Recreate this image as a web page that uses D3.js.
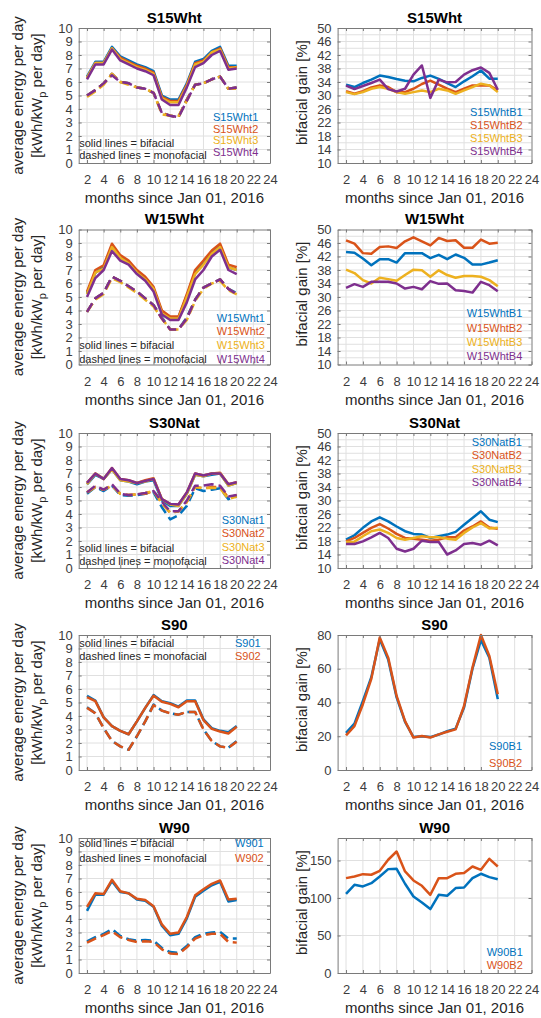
<!DOCTYPE html>
<html>
<head>
<meta charset="utf-8">
<script src="https://cdn.jsdelivr.net/npm/d3@7"></script>
<style>
  html, body { margin: 0; padding: 0; background: #fff; }
  svg { display: block; font-family: "Liberation Sans", Arial, Helvetica, sans-serif; }
</style>
</head>
<body>
<svg id="fig" width="541" height="1018"></svg>
<script>
// ---------- data ----------
const months = [2, 3, 4, 5, 6, 7, 8, 9, 10, 11, 12, 13, 14, 15, 16, 17, 18, 19, 20];
const xTicks = [2, 4, 6, 8, 10, 12, 14, 16, 18, 20, 22, 24];

const energyTicks = [0, 1, 2, 3, 4, 5, 6, 7, 8, 9, 10];
const gainTicks = [10, 14, 18, 22, 26, 30, 34, 38, 42, 46, 50];
const gainGrid = [10, 12, 14, 16, 18, 20, 22, 24, 26, 28, 30, 32, 34, 36, 38, 40, 42, 44, 46, 48, 50];
const s90GainTicks = [0, 20, 40, 60, 80];
const w90GainTicks = [0, 50, 100, 150];

// S15Wht daily energy, bifacial strings
const s15Bi1 = [6.4, 7.5, 7.5, 8.6, 7.9, 7.6, 7.3, 7.1, 6.8, 5.0, 4.7, 4.7, 5.9, 7.5, 7.7, 8.3, 8.6, 7.2, 7.2];
const s15Bi2 = [6.3, 7.4, 7.4, 8.5, 7.8, 7.5, 7.2, 7.0, 6.7, 4.9, 4.6, 4.6, 5.8, 7.4, 7.6, 8.2, 8.5, 7.1, 7.1];
const s15Bi3 = [6.3, 7.4, 7.4, 8.5, 7.7, 7.4, 7.1, 6.9, 6.6, 4.8, 4.5, 4.5, 5.7, 7.3, 7.5, 8.2, 8.4, 7.0, 7.1];
const s15Bi4 = [6.2, 7.3, 7.3, 8.4, 7.6, 7.3, 7.0, 6.8, 6.5, 4.7, 4.3, 4.3, 5.6, 7.1, 7.4, 8.0, 8.3, 6.9, 7.0];
// S15Wht daily energy, monofacial references
const s15Mo1 = [5.0, 5.4, 5.9, 6.6, 6.0, 5.9, 5.6, 5.5, 5.2, 3.7, 3.5, 3.4, 4.7, 5.8, 5.9, 6.2, 6.4, 5.5, 5.6];
const s15Mo2 = [5.0, 5.4, 5.9, 6.6, 6.0, 5.9, 5.6, 5.5, 5.2, 3.7, 3.5, 3.4, 4.7, 5.8, 5.9, 6.2, 6.4, 5.5, 5.6];
const s15Mo3 = [4.9, 5.3, 5.8, 6.6, 6.0, 5.8, 5.6, 5.5, 5.2, 3.6, 3.5, 3.5, 4.6, 5.8, 5.9, 6.2, 6.4, 5.5, 5.5];
const s15Mo4 = [5.0, 5.4, 5.9, 6.5, 6.0, 5.9, 5.6, 5.5, 5.2, 3.7, 3.5, 3.4, 4.6, 5.8, 5.9, 6.2, 6.4, 5.5, 5.6];
// S15Wht bifacial gain [%]
const s15Gain1 = [33.2, 32.5, 33.7, 34.7, 35.9, 35.5, 34.9, 34.4, 34.2, 35.2, 35.9, 34.9, 33.7, 32.5, 34.2, 35.7, 37.4, 35.0, 35.0];
const s15Gain2 = [31.3, 30.5, 31.3, 32.4, 33.0, 32.5, 31.0, 31.0, 32.0, 33.4, 34.4, 33.2, 32.0, 31.0, 32.0, 33.0, 33.0, 33.0, 31.5];
const s15Gain3 = [31.0, 30.4, 31.0, 32.0, 32.5, 32.0, 31.0, 30.5, 31.0, 31.5, 31.0, 32.0, 31.5, 30.5, 31.5, 32.5, 33.5, 33.0, 31.0];
const s15Gain4 = [32.9, 31.9, 32.8, 33.7, 34.7, 31.9, 31.2, 32.0, 36.2, 38.9, 29.3, 34.7, 33.9, 34.0, 36.2, 37.5, 38.3, 36.7, 31.7];

// W15Wht
const w15Bi1 = [5.3, 6.8, 7.2, 8.8, 8.0, 7.6, 6.9, 6.4, 5.6, 3.9, 3.5, 3.5, 5.1, 6.8, 7.5, 8.3, 8.8, 7.2, 7.0];
const w15Bi2 = [5.4, 7.0, 7.35, 8.95, 8.1, 7.7, 7.0, 6.5, 5.75, 4.0, 3.55, 3.55, 5.2, 7.0, 7.7, 8.45, 8.95, 7.4, 7.2];
const w15Bi3 = [5.2, 6.8, 7.1, 8.7, 7.9, 7.5, 6.8, 6.3, 5.6, 3.8, 3.4, 3.4, 5.0, 6.7, 7.4, 8.2, 8.7, 7.2, 7.0];
const w15Bi4 = [5.0, 6.4, 7.0, 8.4, 7.7, 7.4, 6.7, 6.2, 5.4, 3.7, 3.3, 3.3, 4.6, 6.3, 7.0, 8.0, 8.5, 7.0, 6.7];
const w15Mo1 = [3.9, 4.9, 5.3, 6.5, 6.2, 5.8, 5.4, 4.9, 4.4, 3.5, 2.6, 2.6, 3.5, 4.8, 5.7, 6.0, 6.3, 5.6, 5.3];
const w15Mo2 = [3.9, 4.9, 5.3, 6.5, 6.2, 5.8, 5.4, 4.9, 4.4, 3.4, 2.6, 2.6, 3.4, 4.8, 5.7, 6.0, 6.3, 5.6, 5.2];
const w15Mo3 = [3.9, 4.8, 5.2, 6.4, 6.1, 5.7, 5.3, 4.8, 4.3, 3.4, 2.6, 2.6, 3.3, 4.7, 5.6, 6.0, 6.2, 5.5, 5.2];
const w15Mo4 = [3.9, 4.9, 5.3, 6.5, 6.2, 5.8, 5.4, 4.9, 4.4, 3.4, 2.6, 2.6, 3.4, 4.8, 5.7, 6.0, 6.3, 5.6, 5.2];
const w15Gain1 = [43.3, 43.1, 41.4, 39.4, 41.2, 41.2, 40.2, 43.0, 43.0, 43.0, 41.5, 42.5, 41.2, 42.6, 41.6, 39.6, 39.6, 40.2, 40.9];
const w15Gain2 = [46.8, 45.8, 43.0, 42.8, 44.8, 45.0, 44.5, 46.5, 47.7, 46.5, 45.3, 47.5, 46.6, 46.8, 44.6, 44.6, 47.0, 45.8, 46.1];
const w15Gain3 = [38.1, 37.1, 35.0, 34.0, 35.7, 35.3, 34.8, 36.5, 38.1, 37.9, 36.0, 37.9, 36.5, 35.7, 36.2, 36.2, 36.0, 35.0, 33.2];
const w15Gain4 = [32.7, 33.8, 33.0, 34.5, 34.5, 34.5, 34.0, 32.5, 33.0, 32.3, 34.7, 33.9, 34.0, 32.0, 31.8, 31.3, 34.5, 33.5, 31.7];

// S30Nat
const s30Bi1 = [6.2, 6.9, 6.6, 7.3, 6.5, 6.4, 6.2, 6.4, 6.5, 5.0, 4.6, 4.6, 5.5, 6.9, 6.8, 6.9, 7.0, 6.1, 6.3];
const s30Bi2 = [6.3, 7.0, 6.6, 7.4, 6.6, 6.5, 6.3, 6.5, 6.65, 5.1, 4.75, 4.7, 5.6, 7.0, 6.85, 7.0, 7.05, 6.2, 6.35];
const s30Bi3 = [6.2, 7.0, 6.6, 7.3, 6.5, 6.4, 6.3, 6.4, 6.6, 5.1, 4.7, 4.6, 5.5, 6.9, 6.8, 7.0, 7.0, 6.1, 6.3];
const s30Bi4 = [6.3, 7.0, 6.6, 7.4, 6.6, 6.5, 6.3, 6.45, 6.6, 5.1, 4.75, 4.7, 5.6, 7.0, 6.85, 7.0, 7.0, 6.2, 6.35];
const s30Mo1 = [5.5, 6.0, 5.7, 6.1, 5.4, 5.35, 5.4, 5.5, 5.6, 4.5, 3.6, 3.9, 4.6, 5.9, 5.7, 5.8, 5.9, 5.1, 5.3];
const s30Mo2 = [5.6, 6.0, 5.8, 6.1, 5.5, 5.4, 5.45, 5.5, 5.7, 4.8, 4.1, 4.2, 4.9, 6.0, 5.9, 6.0, 6.0, 5.2, 5.4];
const s30Mo3 = [5.6, 6.0, 5.8, 6.1, 5.5, 5.4, 5.45, 5.55, 5.7, 4.8, 4.1, 4.2, 4.9, 6.0, 5.9, 5.95, 5.9, 5.1, 5.3];
const s30Mo4 = [5.6, 6.1, 5.8, 6.2, 5.5, 5.4, 5.45, 5.55, 5.7, 4.9, 4.2, 4.2, 5.0, 6.1, 6.1, 6.2, 6.1, 5.3, 5.4];
const s30Gain1 = [18.4, 19.7, 21.9, 23.8, 25.0, 23.8, 22.3, 20.9, 20.1, 19.9, 18.9, 19.4, 19.9, 20.7, 22.8, 24.8, 26.8, 24.3, 23.6];
const s30Gain2 = [17.9, 18.9, 20.4, 21.9, 23.0, 21.7, 20.1, 18.9, 18.7, 18.4, 18.1, 18.4, 19.1, 19.1, 21.1, 22.3, 23.8, 22.0, 21.6];
const s30Gain3 = [17.7, 17.8, 19.4, 20.9, 21.4, 20.4, 18.9, 18.4, 18.9, 19.4, 19.1, 19.1, 18.7, 18.4, 20.4, 22.0, 23.3, 21.7, 21.9];
const s30Gain4 = [17.1, 17.1, 17.9, 19.1, 20.4, 18.9, 15.7, 14.9, 15.7, 18.1, 17.7, 17.7, 14.0, 15.2, 17.1, 17.4, 16.9, 18.1, 16.7];

// S90
const s90Bi1 = [5.5, 5.15, 3.9, 3.25, 2.9, 2.65, 3.6, 4.6, 5.55, 5.1, 4.95, 4.7, 5.15, 5.15, 3.75, 3.1, 2.9, 2.8, 3.25];
const s90Bi2 = [5.4, 5.1, 3.9, 3.25, 2.9, 2.65, 3.6, 4.6, 5.5, 5.05, 4.9, 4.65, 5.1, 5.1, 3.7, 3.05, 2.85, 2.7, 3.2];
const s90Mo1 = [4.65, 4.2, 3.1, 2.15, 1.75, 1.5, 2.5, 3.6, 4.85, 4.4, 4.2, 4.1, 4.3, 4.3, 3.0, 2.15, 1.75, 1.65, 2.15];
const s90Mo2 = [4.6, 4.2, 3.1, 2.15, 1.75, 1.5, 2.5, 3.6, 4.8, 4.4, 4.2, 4.1, 4.3, 4.3, 3.0, 2.15, 1.75, 1.65, 2.1];
const s90Gain1 = [22.0, 27.5, 41.0, 55.0, 77.5, 65.5, 43.0, 28.5, 19.5, 20.0, 19.5, 21.0, 23.0, 24.5, 37.0, 60.0, 77.0, 66.5, 42.0];
const s90Gain2 = [20.5, 26.0, 39.0, 54.0, 78.5, 66.6, 43.9, 29.0, 19.2, 20.2, 19.2, 21.1, 22.7, 24.1, 37.9, 60.7, 80.0, 67.6, 44.9];

// W90
const w90Bi1 = [4.6, 5.8, 5.8, 6.8, 6.0, 5.9, 5.45, 5.35, 4.9, 3.5, 2.8, 2.9, 4.05, 5.65, 6.1, 6.5, 6.75, 5.3, 5.4];
const w90Bi2 = [4.9, 5.9, 5.85, 6.9, 6.05, 5.9, 5.5, 5.4, 4.95, 3.6, 2.9, 3.0, 4.15, 5.75, 6.2, 6.6, 6.85, 5.45, 5.5];
const w90Mo1 = [2.35, 2.65, 2.9, 3.25, 2.75, 2.5, 2.4, 2.45, 2.4, 1.85, 1.55, 1.5, 2.0, 2.65, 2.9, 3.0, 3.05, 2.55, 2.55];
const w90Mo2 = [2.25, 2.55, 2.8, 3.1, 2.65, 2.45, 2.3, 2.35, 2.3, 1.75, 1.45, 1.4, 1.9, 2.55, 2.8, 2.9, 2.9, 2.3, 2.25];
const w90Gain1 = [105.6, 117.6, 115.4, 119.8, 128.7, 138.5, 138.9, 119.0, 102.0, 94.0, 85.2, 104.3, 103.0, 113.2, 114.0, 126.5, 132.3, 127.8, 125.0];
const w90Gain2 = [126.5, 128.7, 131.8, 131.0, 136.3, 151.0, 162.0, 135.4, 123.4, 116.3, 104.3, 126.5, 126.5, 132.3, 133.2, 142.0, 137.6, 152.2, 142.0];

const seriesColors = ["#0072BD", "#D95319", "#EDB120", "#7E2F8E"];

// ---------- layout ----------
const svg = d3.select("#fig");
const boxH = 135;
const cols = [{ x0: 78.7, x1: 270 }, { x0: 337.6, x1: 531.5 }];
const rowTop = [28, 229.5, 433, 635, 838];
const xDomain = [1, 24];
const gridColor = "#e0e0e0";
const axisColor = "#7a7a7a";
const tickTextColor = "#3c3c3c";

const panels = [
  { row: 0, col: 0, title: "S15Wht", type: "energy",
    names: ["S15Wht1", "S15Wht2", "S15Wht3", "S15Wht4"],
    bi: [s15Bi1, s15Bi2, s15Bi3, s15Bi4], mono: [s15Mo1, s15Mo2, s15Mo3, s15Mo4],
    legendX: 213, legendY: [117.3, 128.8, 140.3, 151.8], noteY: [143.3, 155] },
  { row: 0, col: 1, title: "S15Wht", type: "gain",
    names: ["S15WhtB1", "S15WhtB2", "S15WhtB3", "S15WhtB4"],
    gain: [s15Gain1, s15Gain2, s15Gain3, s15Gain4],
    yDomain: [10, 50], yTicks: gainTicks, yGrid: gainGrid,
    legendX: 470, legendY: [111.7, 124.7, 137.7, 150.7] },
  { row: 1, col: 0, title: "W15Wht", type: "energy",
    names: ["W15Wht1", "W15Wht2", "W15Wht3", "W15Wht4"],
    bi: [w15Bi1, w15Bi2, w15Bi3, w15Bi4], mono: [w15Mo1, w15Mo2, w15Mo3, w15Mo4],
    legendX: 216.7, legendY: [317.7, 331.3, 345, 358.5], noteY: [345, 359] },
  { row: 1, col: 1, title: "W15Wht", type: "gain",
    names: ["W15WhtB1", "W15WhtB2", "W15WhtB3", "W15WhtB4"],
    gain: [w15Gain1, w15Gain2, w15Gain3, w15Gain4],
    yDomain: [10, 50], yTicks: gainTicks, yGrid: gainGrid,
    legendX: 466.7, legendY: [313.3, 327.5, 341.6, 355.7] },
  { row: 2, col: 0, title: "S30Nat", type: "energy",
    names: ["S30Nat1", "S30Nat2", "S30Nat3", "S30Nat4"],
    bi: [s30Bi1, s30Bi2, s30Bi3, s30Bi4], mono: [s30Mo1, s30Mo2, s30Mo3, s30Mo4],
    legendX: 221.7, legendY: [520, 533.3, 546.7, 560], noteY: [548.3, 561] },
  { row: 2, col: 1, title: "S30Nat", type: "gain",
    names: ["S30NatB1", "S30NatB2", "S30NatB3", "S30NatB4"],
    gain: [s30Gain1, s30Gain2, s30Gain3, s30Gain4],
    yDomain: [10, 50], yTicks: gainTicks, yGrid: gainGrid,
    legendX: 471.7, legendY: [441.7, 455.2, 468.7, 482.3] },
  { row: 3, col: 0, title: "S90", type: "energy",
    names: ["S901", "S902"],
    bi: [s90Bi1, s90Bi2], mono: [s90Mo1, s90Mo2],
    legendX: 235, legendY: [642.7, 656], noteY: [642.7, 656] },
  { row: 3, col: 1, title: "S90", type: "gain",
    names: ["S90B1", "S90B2"],
    gain: [s90Gain1, s90Gain2],
    yDomain: [0, 80], yTicks: s90GainTicks, yGrid: s90GainTicks,
    legendX: 489, legendY: [746, 762.7] },
  { row: 4, col: 0, title: "W90", type: "energy",
    names: ["W901", "W902"],
    bi: [w90Bi1, w90Bi2], mono: [w90Mo1, w90Mo2],
    legendX: 235, legendY: [843.3, 858.3], noteY: [843.3, 858.3] },
  { row: 4, col: 1, title: "W90", type: "gain",
    names: ["W90B1", "W90B2"],
    gain: [w90Gain1, w90Gain2],
    yDomain: [0, 180], yTicks: w90GainTicks, yGrid: w90GainTicks,
    legendX: 486.7, legendY: [951.7, 965] }
];

function drawPanel(p) {
  const c = cols[p.col];
  const top = rowTop[p.row];
  const bottom = top + boxH;
  const isEnergy = p.type === "energy";
  const yDomain = isEnergy ? [0, 10] : p.yDomain;
  const yTicks = isEnergy ? energyTicks : p.yTicks;
  const yGrid = isEnergy ? energyTicks : p.yGrid;

  const x = d3.scaleLinear().domain(xDomain).range([c.x0, c.x1]);
  const y = d3.scaleLinear().domain(yDomain).range([bottom, top]);
  const g = svg.append("g");

  // grid
  g.append("g").selectAll("line")
    .data(xTicks.filter(v => v > xDomain[0] && v < xDomain[1]))
    .join("line")
    .attr("x1", d => x(d)).attr("x2", d => x(d))
    .attr("y1", top).attr("y2", bottom)
    .attr("stroke", gridColor).attr("stroke-width", 1);
  g.append("g").selectAll("line")
    .data(yGrid.filter(v => v > yDomain[0] && v < yDomain[1]))
    .join("line")
    .attr("x1", c.x0).attr("x2", c.x1)
    .attr("y1", d => y(d)).attr("y2", d => y(d))
    .attr("stroke", gridColor).attr("stroke-width", 1);

  // annotation text on energy panels
  if (isEnergy) {
    const notes = ["solid lines = bifacial", "dashed lines = monofacial"];
    g.append("g").selectAll("text").data(notes).join("text")
      .attr("x", c.x0 + 0.5)
      .attr("y", (d, i) => p.noteY[i] + 4)
      .attr("font-size", 11)
      .attr("fill", "#262626")
      .text(d => d);
  }

  // lines
  const line = d3.line().x((d, i) => x(months[i])).y(d => y(d));
  const addPath = (vals, color, dashed) => {
    g.append("path")
      .attr("d", line(vals))
      .attr("fill", "none")
      .attr("stroke", color)
      .attr("stroke-width", 2.5)
      .attr("stroke-linejoin", "round")
      .attr("stroke-dasharray", dashed ? "10,5" : null);
  };
  if (isEnergy) {
    p.bi.forEach((vals, i) => {
      addPath(vals, seriesColors[i], false);
      addPath(p.mono[i], seriesColors[i], true);
    });
  } else {
    p.gain.forEach((vals, i) => addPath(vals, seriesColors[i], false));
  }

  // axes (ticks inside the box on all four sides)
  const styleAxis = sel => {
    sel.attr("font-family", null).attr("font-size", 13).attr("color", axisColor);
    sel.select(".domain").attr("stroke", axisColor).attr("stroke-width", 1);
    sel.selectAll("text").attr("fill", tickTextColor);
  };
  g.append("g").attr("transform", `translate(0,${bottom})`)
    .call(d3.axisBottom(x).tickValues(xTicks).tickSize(-3).tickSizeOuter(0).tickPadding(12))
    .call(styleAxis);
  g.append("g").attr("transform", `translate(0,${top})`)
    .call(d3.axisTop(x).tickValues(xTicks).tickSize(-3).tickSizeOuter(0).tickFormat(""))
    .call(styleAxis);
  g.append("g").attr("transform", `translate(${c.x0},0)`)
    .call(d3.axisLeft(y).tickValues(yTicks).tickSize(-3).tickSizeOuter(0).tickPadding(6))
    .call(styleAxis);
  g.append("g").attr("transform", `translate(${c.x1},0)`)
    .call(d3.axisRight(y).tickValues(yTicks).tickSize(-3).tickSizeOuter(0).tickFormat(""))
    .call(styleAxis);

  // legend (coloured text entries)
  g.append("g").selectAll("text").data(p.names).join("text")
    .attr("x", p.legendX)
    .attr("y", (d, i) => p.legendY[i] + 4)
    .attr("font-size", 11)
    .attr("fill", (d, i) => seriesColors[i])
    .text(d => d);

  // title
  const cx = (c.x0 + c.x1) / 2;
  g.append("text")
    .attr("x", cx).attr("y", top - 5.5)
    .attr("text-anchor", "middle")
    .attr("font-size", 15).attr("font-weight", "bold")
    .attr("fill", "#000")
    .text(p.title);

  // x label
  g.append("text")
    .attr("x", cx).attr("y", bottom + 40)
    .attr("text-anchor", "middle")
    .attr("font-size", 15).attr("fill", "#262626")
    .text("months since Jan 01, 2016");

  // y label
  const cy = (top + bottom) / 2;
  if (isEnergy) {
    g.append("text")
      .attr("transform", `translate(23,${cy}) rotate(-90)`)
      .attr("text-anchor", "middle")
      .attr("font-size", 15).attr("fill", "#262626")
      .text("average energy per day");
    const t2 = g.append("text")
      .attr("transform", `translate(42,${cy}) rotate(-90)`)
      .attr("text-anchor", "middle")
      .attr("font-size", 15).attr("fill", "#262626");
    t2.append("tspan").text("[kWh/kW");
    t2.append("tspan").attr("dy", 4).attr("font-size", 11).text("p");
    t2.append("tspan").attr("dy", -4).text(" per day]");
  } else {
    g.append("text")
      .attr("transform", `translate(${c.x0 - 31},${cy - 3}) rotate(-90)`)
      .attr("text-anchor", "middle")
      .attr("font-size", 15).attr("fill", "#262626")
      .text("bifacial gain [%]");
  }
}

panels.forEach(drawPanel);
</script>
</body>
</html>
